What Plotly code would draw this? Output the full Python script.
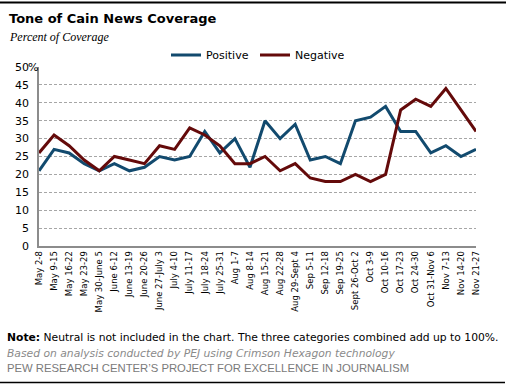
import plotly.graph_objects as go

weeks = ["May 2-8", "May 9-15", "May 16-22", "May 23-29", "May 30-June 5",
         "June 6-12", "June 13-19", "June 20-26", "June 27-July 3", "July 4-10",
         "July 11-17", "July 18-24", "July 25-31", "Aug 1-7", "Aug 8-14",
         "Aug 15-21", "Aug 22-28", "Aug 29-Sept 4", "Sep 5-11", "Sep 12-18",
         "Sep 19-25", "Sept 26-Oct 2", "Oct 3-9", "Oct 10-16", "Oct 17-23",
         "Oct 24-30", "Oct 31-Nov 6", "Nov 7-13", "Nov 14-20", "Nov 21-27"]
positive = [21, 27, 26, 23, 21, 23, 21, 22, 25, 24, 25, 32, 26, 30, 22,
            35, 30, 34, 24, 25, 23, 35, 36, 39, 32, 32, 26, 28, 25, 27]
negative = [26, 31, 28, 24, 21, 25, 24, 23, 28, 27, 33, 31, 28, 23, 23,
            25, 21, 23, 19, 18, 18, 20, 18, 20, 38, 41, 39, 44, 38, 32]
y_ticks = [0, 5, 10, 15, 20, 25, 30, 35, 40, 45, 50]

BLUE = "#124a6e"
RED = "#640a0a"
SANS = "DejaVu Sans, Verdana, sans-serif"

W, H = 506, 384
ML, MR, MT, MB = 39, 30, 67, 138
PW, PH = W - ML - MR, H - MT - MB


def px(x):
    return (x - ML) / PW


def py(y):
    return (H - y - MB) / PH


fig = go.Figure()
fig.add_trace(go.Scatter(x=list(range(len(weeks))), y=positive, mode="lines",
                         name="Positive", line=dict(color=BLUE, width=3)))
fig.add_trace(go.Scatter(x=list(range(len(weeks))), y=negative, mode="lines",
                         name="Negative", line=dict(color=RED, width=3)))

fig.update_layout(
    width=W, height=H,
    margin=dict(l=ML, r=MR, t=MT, b=MB, autoexpand=False),
    paper_bgcolor="white", plot_bgcolor="white",
    font=dict(family=SANS, size=11, color="#000"),
    showlegend=True,
    legend=dict(orientation="h", x=px(166), xanchor="left", y=py(55), yanchor="middle",
                font=dict(size=11, family=SANS), bgcolor="rgba(0,0,0,0)",
                itemwidth=30, entrywidth=44, entrywidthmode="pixels"),
    xaxis=dict(range=[0, len(weeks) - 1], tickmode="array",
               tickvals=list(range(len(weeks))), ticktext=weeks,
               tickangle=-90, tickfont=dict(size=8.5, family=SANS),
               showgrid=False, showline=True, linecolor="#8c8c8c", linewidth=1.5,
               ticks="", zeroline=False, fixedrange=True),
    yaxis=dict(range=[0, 50], tickmode="array", tickvals=y_ticks,
               ticktext=[str(v) for v in y_ticks],
               tickfont=dict(size=11, family=SANS),
               showgrid=True, gridcolor="#a6a6a6", griddash="3px,2px", gridwidth=1,
               showline=True, linecolor="#8c8c8c", linewidth=1.5,
               ticks="", ticklabelstandoff=6, zeroline=False, fixedrange=True),
)

# "%" after the top tick label
fig.add_annotation(x=0, y=50, xref="paper", yref="y", text="%", showarrow=False,
                   xanchor="right", yanchor="middle", xshift=1,
                   font=dict(size=11, family=SANS))


def text_at(x, y, text, size, family, color="#000"):
    fig.add_annotation(x=px(x), y=py(y), xref="paper", yref="paper", text=text,
                       showarrow=False, xanchor="left", yanchor="middle",
                       font=dict(size=size, family=family, color=color))


text_at(7, 18, "<b>Tone of Cain News Coverage</b>", 13, SANS)
text_at(7, 37, "<i>Percent of Coverage</i>", 12, "Liberation Serif, Georgia, serif")
text_at(5, 337, "<b>Note:</b> Neutral is not included in the chart. The three categories combined add up to 100%.",
        10.75, SANS)
text_at(5, 353, "<i>Based on analysis conducted by PEJ using Crimson Hexagon technology</i>",
        10.75, SANS, "#8a8a8a")
text_at(5, 368, "PEW RESEARCH CENTER\u2019S PROJECT FOR EXCELLENCE IN JOURNALISM",
        11.3, "Liberation Sans, Arial, sans-serif", "#7a7a7a")

# Top and bottom rules
fig.add_shape(type="line", xref="paper", yref="paper",
              x0=px(0), x1=px(W), y0=py(2.5), y1=py(2.5),
              line=dict(color="#000", width=2))
fig.add_shape(type="line", xref="paper", yref="paper",
              x0=px(0), x1=px(505), y0=py(382.5), y1=py(382.5),
              line=dict(color="#000", width=1.5))

fig.write_html("out.html", config={"displayModeBar": False},
               post_script="document.body.style.margin='0';document.body.style.overflow='hidden';")
